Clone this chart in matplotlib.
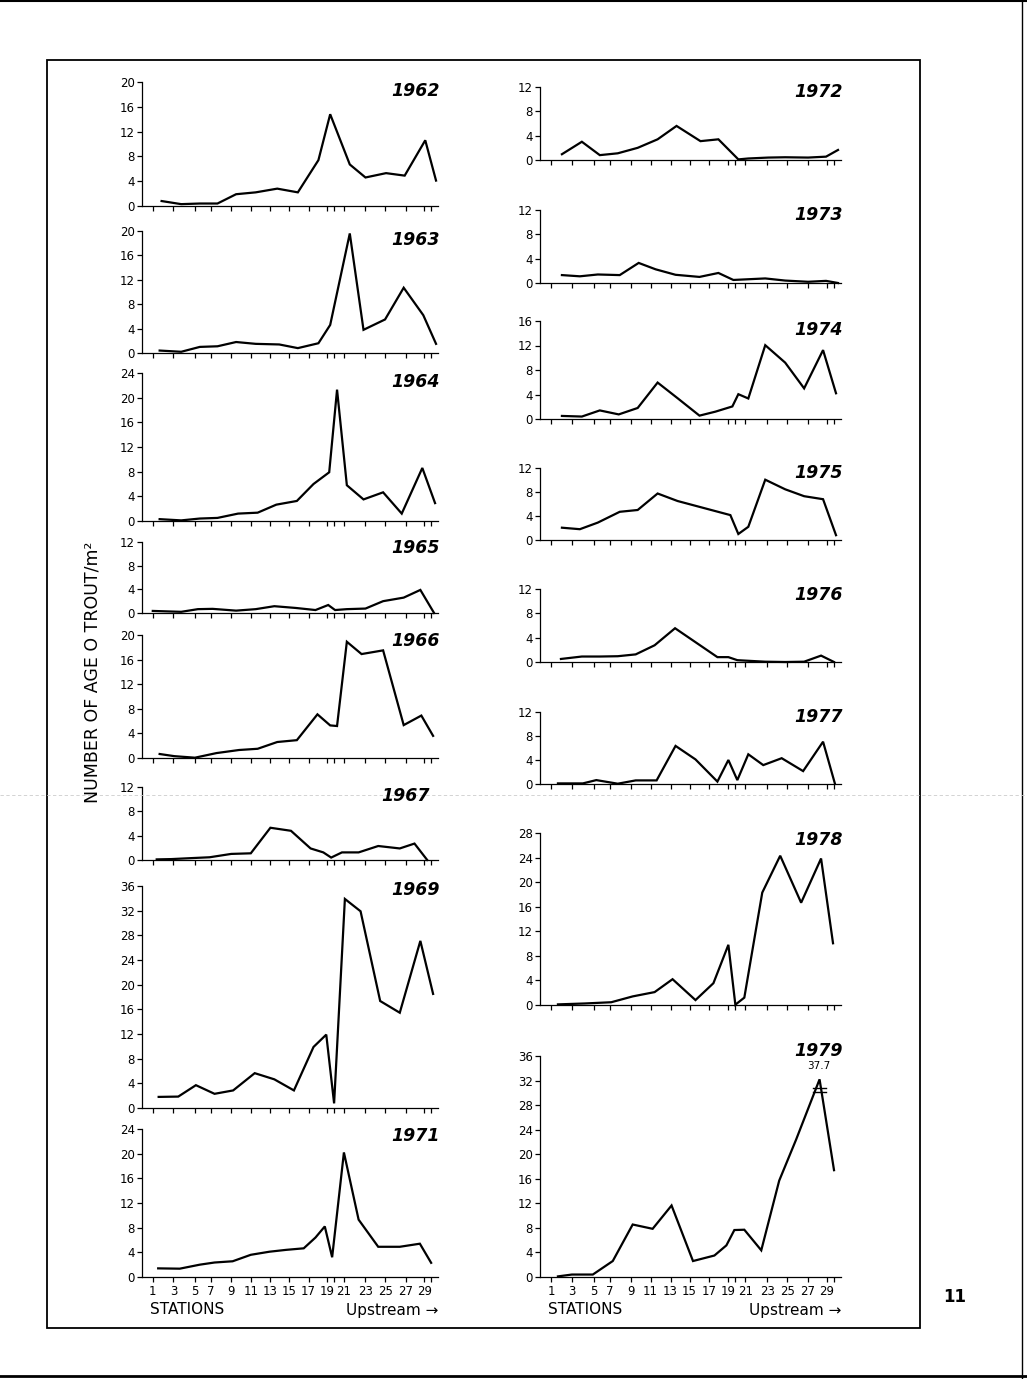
import matplotlib.pyplot as plt
from matplotlib.patches import Rectangle
from matplotlib.lines import Line2D

plt.rcParams['font.family'] = 'DejaVu Sans'

W, H = 1027, 1379

# station tick positions (river position units) and their labels
station_ticks = [1.1, 3.2, 5.4, 7.0, 9.1, 11.1, 13.1, 15.0, 17.0, 18.9, 19.6, 20.6,
                 22.8, 24.8, 26.9, 28.8, 29.5]
station_labels = ['1', '3', '5', '7', '9', '11', '13', '15', '17', '19', '', '21',
                  '23', '25', '27', '29', '']

# left column
x1962 = [2.0, 4.0, 5.9, 7.7, 9.6, 11.6, 13.8, 15.9, 18.0, 19.2, 21.2, 22.8, 24.9, 26.8, 28.9, 30.0]
y1962 = [0.8, 0.3, 0.4, 0.4, 1.9, 2.2, 2.8, 2.2, 7.4, 14.8, 6.7, 4.6, 5.3, 4.9, 10.6, 4.1]

x1963 = [1.8, 4.0, 5.9, 7.7, 9.6, 11.6, 14.0, 15.9, 18.0, 19.2, 21.2, 22.6, 24.8, 26.7, 28.7, 30.0]
y1963 = [0.4, 0.2, 1.0, 1.1, 1.8, 1.5, 1.4, 0.8, 1.6, 4.6, 19.6, 3.8, 5.5, 10.7, 6.2, 1.5]

x1964 = [1.8, 4.0, 5.9, 7.7, 9.8, 11.8, 13.7, 15.8, 17.5, 19.1, 19.9, 20.9, 22.6, 24.6, 26.5, 28.6, 29.9]
y1964 = [0.3, 0.1, 0.4, 0.5, 1.2, 1.35, 2.65, 3.25, 6.0, 7.9, 21.3, 5.8, 3.5, 4.65, 1.2, 8.6, 2.9]

x1965 = [1.1, 3.0, 4.0, 5.7, 7.2, 9.6, 11.6, 13.5, 15.7, 17.7, 19.0, 19.7, 20.9, 22.8, 24.6, 26.7, 28.4, 29.8]
y1965 = [0.35, 0.25, 0.2, 0.65, 0.7, 0.4, 0.65, 1.15, 0.85, 0.5, 1.35, 0.5, 0.65, 0.75, 2.0, 2.6, 3.9, 0.0]

x1966 = [1.8, 3.3, 5.4, 7.6, 9.9, 11.8, 13.8, 15.8, 17.9, 19.2, 19.9, 20.9, 22.4, 24.6, 26.7, 28.5, 29.7]
y1966 = [0.65, 0.3, 0.05, 0.8, 1.3, 1.5, 2.6, 2.9, 7.1, 5.3, 5.2, 18.9, 16.9, 17.5, 5.35, 6.9, 3.6]

x1967 = [1.5, 3.0, 4.9, 6.9, 9.1, 11.1, 13.1, 15.2, 17.2, 18.5, 19.3, 20.4, 22.1, 24.1, 26.3, 27.8, 29.1]
y1967 = [0.1, 0.15, 0.3, 0.45, 1.0, 1.1, 5.3, 4.8, 1.9, 1.25, 0.4, 1.25, 1.25, 2.3, 1.9, 2.7, 0.0]

x1969 = [1.7, 3.7, 5.5, 7.4, 9.3, 11.5, 13.5, 15.5, 17.5, 18.8, 19.6, 20.7, 22.3, 24.3, 26.3, 28.4, 29.7]
y1969 = [1.8, 1.85, 3.7, 2.3, 2.85, 5.65, 4.65, 2.85, 9.9, 11.9, 0.75, 33.9, 31.9, 17.35, 15.45, 27.1, 18.5]

x1971 = [1.65, 3.85, 5.9, 7.4, 9.25, 11.1, 13.0, 14.7, 16.5, 17.7, 18.65, 19.4, 20.6, 22.1, 24.1, 26.3, 28.35, 29.5]
y1971 = [1.4, 1.35, 2.0, 2.35, 2.55, 3.6, 4.1, 4.4, 4.65, 6.4, 8.2, 3.2, 20.2, 9.3, 4.9, 4.9, 5.4, 2.3]

# right column
x1972 = [2.2, 4.2, 6.0, 7.8, 9.8, 11.8, 13.7, 16.1, 17.9, 19.9, 20.9, 22.9, 24.6, 26.9, 28.7, 29.9]
y1972 = [0.95, 3.0, 0.8, 1.1, 2.0, 3.4, 5.6, 3.1, 3.4, 0.1, 0.25, 0.4, 0.45, 0.4, 0.55, 1.65]

x1973 = [2.2, 4.0, 5.8, 8.0, 9.9, 11.6, 13.6, 16.0, 17.9, 19.4, 22.6, 24.6, 26.9, 28.7, 29.9]
y1973 = [1.3, 1.1, 1.4, 1.3, 3.3, 2.25, 1.35, 1.0, 1.65, 0.5, 0.75, 0.4, 0.2, 0.35, 0.0]

x1974 = [2.2, 4.2, 6.0, 7.9, 9.8, 11.8, 13.8, 16.0, 17.6, 19.3, 19.9, 20.9, 22.6, 24.6, 26.5, 28.4, 29.7]
y1974 = [0.5, 0.4, 1.4, 0.75, 1.8, 5.95, 3.4, 0.55, 1.2, 2.05, 4.05, 3.35, 12.05, 9.2, 5.0, 11.25, 4.2]

x1975 = [2.2, 4.0, 5.8, 8.0, 9.8, 11.8, 13.8, 19.1, 19.9, 20.9, 22.6, 24.6, 26.5, 28.4, 29.7]
y1975 = [2.05, 1.8, 2.9, 4.7, 5.0, 7.75, 6.5, 4.15, 1.0, 2.2, 10.05, 8.45, 7.3, 6.8, 0.8]

x1976 = [2.1, 4.2, 6.0, 7.8, 9.6, 11.5, 13.55, 17.8, 18.9, 19.8, 20.9, 22.6, 24.6, 26.5, 28.2, 29.5]
y1976 = [0.5, 0.9, 0.9, 0.95, 1.25, 2.75, 5.55, 0.8, 0.8, 0.3, 0.2, 0.05, 0.0, 0.05, 1.05, 0.0]

x1977 = [1.8, 4.3, 5.65, 7.8, 9.6, 11.7, 13.6, 15.6, 17.8, 18.9, 19.8, 20.9, 22.4, 24.25, 26.4, 28.4, 29.6]
y1977 = [0.1, 0.1, 0.65, 0.05, 0.6, 0.6, 6.35, 4.1, 0.4, 4.0, 0.65, 4.95, 3.15, 4.3, 2.15, 7.05, 0.0]

x1978 = [1.8, 4.5, 7.15, 9.3, 11.5, 13.3, 15.6, 17.4, 18.9, 19.6, 20.5, 22.3, 24.1, 26.2, 28.2, 29.4]
y1978 = [0.1, 0.25, 0.45, 1.4, 2.1, 4.2, 0.8, 3.55, 9.8, 0.05, 1.2, 18.3, 24.3, 16.65, 23.85, 10.05]

x1979 = [1.8, 3.2, 5.3, 7.3, 9.3, 11.3, 13.2, 15.35, 17.5, 18.7, 19.5, 20.5, 22.2, 24.0, 25.7, 28.05, 29.5]
y1979 = [0.1, 0.4, 0.4, 2.6, 8.55, 7.85, 11.65, 2.6, 3.5, 5.15, 7.65, 7.7, 4.35, 15.7, 22.4, 32.2, 17.4]

# (year, x, y, ymax, column, top px, bottom px, label y px)
panels = [
    ('1962', x1962, y1962, 20, 0, 82, 206, 91),
    ('1963', x1963, y1963, 20, 0, 231, 353, 240),
    ('1964', x1964, y1964, 24, 0, 373, 521, 382),
    ('1965', x1965, y1965, 12, 0, 542, 613, 548),
    ('1966', x1966, y1966, 20, 0, 635, 758, 641),
    ('1967', x1967, y1967, 12, 0, 787, 860, 796),
    ('1969', x1969, y1969, 36, 0, 886, 1108, 890),
    ('1971', x1971, y1971, 24, 0, 1129, 1277, 1136),
    ('1972', x1972, y1972, 12, 1, 87, 160, 92),
    ('1973', x1973, y1973, 12, 1, 210, 283, 215),
    ('1974', x1974, y1974, 16, 1, 321, 419, 330),
    ('1975', x1975, y1975, 12, 1, 468, 540, 473),
    ('1976', x1976, y1976, 12, 1, 589, 662, 595),
    ('1977', x1977, y1977, 12, 1, 712, 784, 717),
    ('1978', x1978, y1978, 28, 1, 833, 1005, 840),
    ('1979', x1979, y1979, 36, 1, 1056, 1277, 1051),
]
col_left = [142, 540]
col_width = [296, 301]
label_right = [440, 843]

fig = plt.figure(figsize=(W / 100, H / 100), dpi=100)
axes = {}
for year, xs, ys, ymax, col, top, bot, ly in panels:
    ax = fig.add_axes([col_left[col] / W, 1 - bot / H, col_width[col] / W, (bot - top) / H])
    ax.plot(xs, ys, color='black', lw=1.6, solid_joinstyle='miter', clip_on=False)
    ax.set_xlim(0, 30.2)
    ax.set_ylim(0, ymax)
    ax.set_yticks(range(0, ymax + 1, 4))
    ax.set_xticks(station_ticks)
    ax.set_xticklabels(station_labels if year in ('1971', '1979') else [])
    for s in ('top', 'right'):
        ax.spines[s].set_visible(False)
    for s in ('left', 'bottom'):
        ax.spines[s].set_linewidth(0.9)
    ax.tick_params(axis='y', direction='out', length=3.5, width=0.9, labelsize=8.5, pad=1.5)
    ax.tick_params(axis='x', direction='out', length=3.5, width=0.9, labelsize=8.5, pad=2)
    ax.patch.set_alpha(0)
    rx = label_right[col] - (10 if year == '1967' else 0)
    fig.text(rx / W, 1 - ly / H, year, ha='right', va='center', fontsize=12.5,
             fontweight='bold', style='italic')
    axes[year] = ax

# broken peak in 1979
ax79 = axes['1979']
ax79.plot([27.4, 28.7], [30.8, 30.8], color='black', lw=1.0)
ax79.plot([27.4, 28.7], [30.2, 30.2], color='black', lw=1.0)
ax79.text(28.0, 33.6, '37.7', ha='center', va='bottom', fontsize=7.5)

# station captions
for col in (0, 1):
    xl = col_left[col]
    fig.text((xl + 8) / W, 1 - 1309 / H, 'STATIONS', ha='left', va='center', fontsize=11)
    fig.text((xl + col_width[col]) / W, 1 - 1310 / H, 'Upstream \u2192', ha='right',
             va='center', fontsize=11)

fig.text(93 / W, 1 - 672 / H, 'NUMBER OF AGE O TROUT/m\u00b2', rotation=90,
         ha='center', va='center', fontsize=12.5)
fig.text(955 / W, 1 - 1297 / H, '11', ha='center', va='center', fontsize=12, fontweight='bold')

# page frame and scan edges
fig.add_artist(Rectangle((47 / W, 1 - 1328 / H), (920 - 47) / W, (1328 - 60) / H,
                         transform=fig.transFigure, fill=False, lw=1.3, ec='black'))
fig.add_artist(Line2D([0, 1], [1 - 1 / H, 1 - 1 / H], transform=fig.transFigure, color='black', lw=1.5))
fig.add_artist(Line2D([1022 / W, 1022 / W], [0, 1], transform=fig.transFigure, color='black', lw=1.0))
fig.add_artist(Line2D([0, 1], [3 / H, 3 / H], transform=fig.transFigure, color='black', lw=2))
fig.add_artist(Line2D([0, 1], [1 - 795 / H, 1 - 795 / H], transform=fig.transFigure,
                      color='#cccccc', lw=0.6, ls=(0, (4, 3))))

fig.savefig('out.png', dpi=100)
